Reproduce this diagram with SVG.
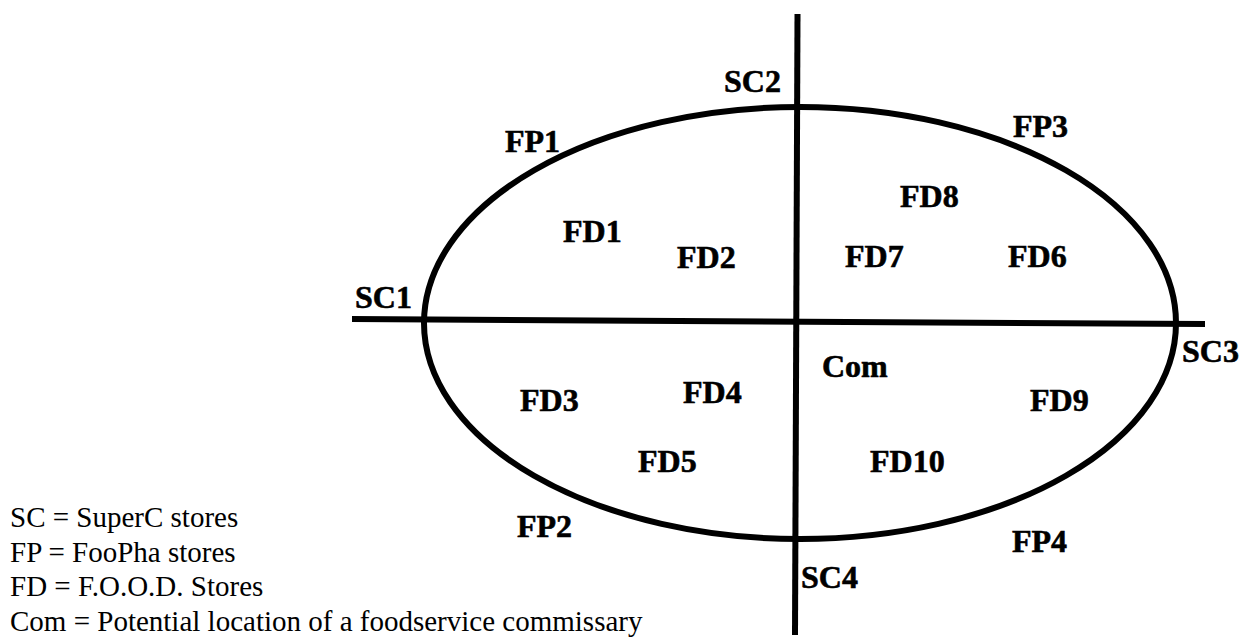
<svg xmlns="http://www.w3.org/2000/svg" width="1248" height="640" viewBox="0 0 1248 640">
<style>
.lbl{font-family:"Liberation Serif","Times New Roman",serif;font-weight:bold;font-size:32px;fill:#000;stroke:#000;stroke-width:0.6}
.leg{font-family:"Liberation Serif","Times New Roman",serif;font-size:29px;fill:#000}
.ln{stroke:#000;stroke-width:6;fill:none}
</style>
<rect width="1248" height="640" fill="#fff"/>
<g id="connectors">
<ellipse cx="800" cy="323" rx="376" ry="216" class="ln" stroke-width="7"/>
<line x1="352" y1="319" x2="1205" y2="324" class="ln"/>
<line x1="797.5" y1="14" x2="795" y2="635" class="ln"/>
</g>
<g id="SC1"><text class="lbl" x="355" y="308">SC1</text></g>
<g id="SC2"><text class="lbl" x="724" y="92">SC2</text></g>
<g id="SC3"><text class="lbl" x="1182" y="362">SC3</text></g>
<g id="SC4"><text class="lbl" x="801" y="588">SC4</text></g>
<g id="FP1"><text class="lbl" x="505" y="152">FP1</text></g>
<g id="FP2"><text class="lbl" x="517" y="537">FP2</text></g>
<g id="FP3"><text class="lbl" x="1013" y="137">FP3</text></g>
<g id="FP4"><text class="lbl" x="1012" y="552">FP4</text></g>
<g id="FD1"><text class="lbl" x="563" y="242">FD1</text></g>
<g id="FD2"><text class="lbl" x="677" y="268">FD2</text></g>
<g id="FD3"><text class="lbl" x="520" y="411">FD3</text></g>
<g id="FD4"><text class="lbl" x="683" y="403">FD4</text></g>
<g id="FD5"><text class="lbl" x="638" y="472">FD5</text></g>
<g id="FD6"><text class="lbl" x="1008" y="267">FD6</text></g>
<g id="FD7"><text class="lbl" x="845" y="267">FD7</text></g>
<g id="FD8"><text class="lbl" x="900" y="207">FD8</text></g>
<g id="FD9"><text class="lbl" x="1030" y="411">FD9</text></g>
<g id="FD10"><text class="lbl" x="870" y="472">FD10</text></g>
<g id="Com"><text class="lbl" x="822" y="377">Com</text></g>
<g id="legend">
<text class="leg" x="10" y="527">SC = SuperC stores</text>
<text class="leg" x="10" y="562">FP = FooPha stores</text>
<text class="leg" x="10" y="596">FD = F.O.O.D. Stores</text>
<text class="leg" x="10" y="631">Com = Potential location of a foodservice commissary</text>
</g>
</svg>
